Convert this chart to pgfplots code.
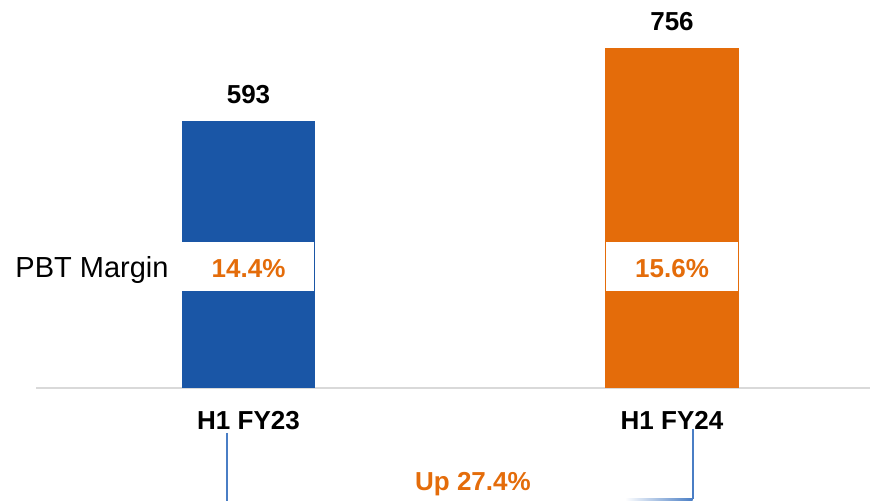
\documentclass[border=0pt]{standalone}
\usepackage{fontspec}
\setmainfont{Liberation Sans}
\usepackage{pgfplots}
\pgfplotsset{compat=1.18}
\definecolor{barblue}{RGB}{26,86,166}
\definecolor{barorange}{RGB}{228,108,10}
\definecolor{lineblue}{RGB}{74,126,197}
\definecolor{basegray}{RGB}{217,217,217}
\newcommand{\bfont}{\fontsize{26bp}{30bp}\selectfont\bfseries}
\begin{document}
\begin{tikzpicture}
\begin{axis}[
  at={(36bp,113bp)}, anchor=south west,
  scale only axis, width=834bp, height=388bp,
  xmin=-0.5018, xmax=1.4675, ymin=0, ymax=861.7,
  axis x line*=bottom, axis y line=none,
  x axis line style={basegray, line width=2.5bp},
  ytick=\empty, xtick={0,1}, xticklabels={H1 FY23, H1 FY24},
  xtick style={draw=none}, major tick length=0pt,
  xticklabel style={font=\bfont, anchor=base, inner sep=0pt, yshift=-41bp},
  ybar, bar shift=0pt, bar width=0.315,
  /pgf/number format/assume math mode=true,
  nodes near coords,
  every node near coord/.append style={font=\bfont, text=black, anchor=south, inner sep=0pt, yshift=17bp},
  clip=false,
]
\addplot[fill=barblue, draw=none] coordinates {(0,593)};
\addplot[fill=barorange, draw=none] coordinates {(1,756)};

\fill[white] (axis cs:-0.1575,215.4) rectangle (axis cs:0.1545,325.3);
\fill[white] (axis cs:0.8437,215.4) rectangle (axis cs:1.1557,325.3);

\node[anchor=base, font=\bfont, text=barorange] at (axis cs:0,246.5) {14.4\%};
\node[anchor=base, font=\bfont, text=barorange] at (axis cs:1,246.5) {15.6\%};
\node[anchor=base, font=\fontsize{29bp}{33bp}\selectfont] at (axis cs:-0.3695,244.3) {PBT Margin};
\node[anchor=base, font=\bfont, text=barorange] at (axis cs:0.530,-228.7) {Up 27.4\%};

\draw[lineblue, line width=2bp] (axis cs:-0.0515,-99.9) -- (axis cs:-0.0515,-251);
\draw[lineblue, line width=2bp] (axis cs:1.0489,-91) -- (axis cs:1.0489,-247.6);
\shade[left color=white, right color=lineblue] (axis cs:0.889,-245.4) rectangle (axis cs:1.0489,-249.8);
\end{axis}
\pgfresetboundingbox
\path[use as bounding box] (0,0) rectangle (873bp,501bp);
\end{tikzpicture}
\end{document}
